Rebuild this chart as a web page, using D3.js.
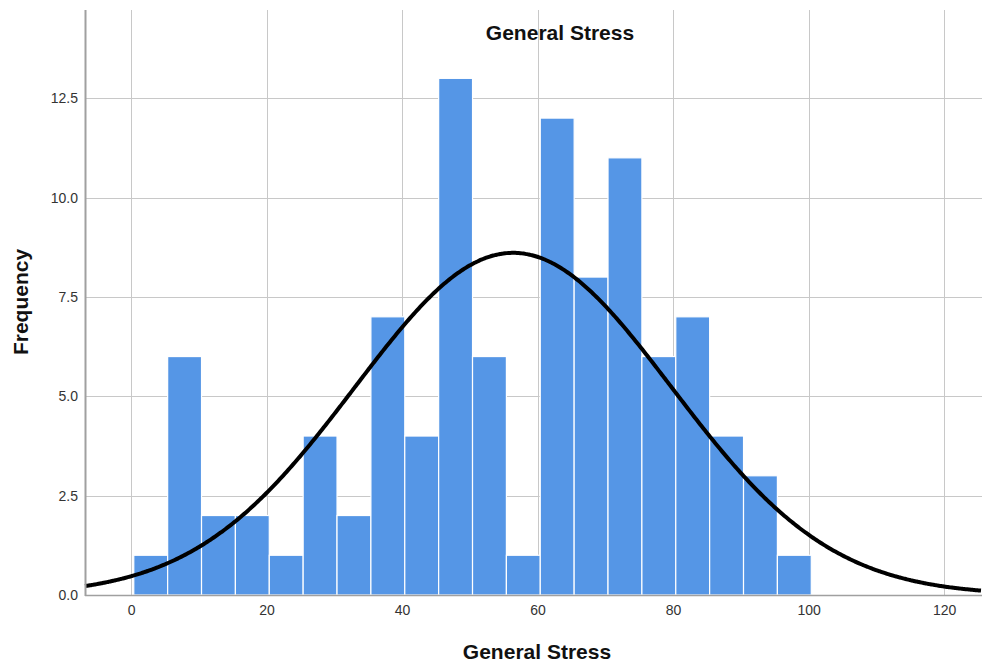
<!DOCTYPE html>
<html>
<head>
<meta charset="utf-8">
<script src="https://cdn.jsdelivr.net/npm/d3@7"></script>
<style>
  html, body { margin: 0; padding: 0; background: #fff; }
  svg { display: block; font-family: "Liberation Sans", Arial, sans-serif; }
</style>
</head>
<body>
<svg id="chart" width="982" height="667"></svg>
<script>
// Histogram of General Stress scores (bin width 5)
const binStart = 0.4;
const binWidth = 5;
const frequencies = [1, 6, 2, 2, 1, 4, 2, 7, 4, 13, 6, 1, 12, 8, 11, 6, 7, 4, 3, 1];
const xTicks = [0, 20, 40, 60, 80, 100, 120];
const yTicks = [0, 2.5, 5, 7.5, 10, 12.5];
// Fitted normal curve parameters
const fitMean = 56.4;
const fitSD = 23.4;
const fitN = 101;

const svg = d3.select("#chart");
const plotLeft = 85, plotRight = 982, plotTop = 10, plotBottom = 595;

const x = d3.scaleLinear().domain([-6.8, 125.6]).range([plotLeft, plotRight]);
const y = d3.scaleLinear().domain([0, 14.72]).range([plotBottom, plotTop]);

const bins = frequencies.map((f, i) => ({
  x0: binStart + i * binWidth,
  x1: binStart + (i + 1) * binWidth,
  count: f
}));

// Grid
const grid = svg.append("g").attr("stroke", "#c8c8c8").attr("stroke-width", 1);
grid.selectAll(".vg").data(xTicks).join("line")
  .attr("x1", d => Math.round(x(d)) + 0.5).attr("x2", d => Math.round(x(d)) + 0.5)
  .attr("y1", plotTop).attr("y2", plotBottom);
grid.selectAll(".hg").data(yTicks.filter(d => d > 0)).join("line")
  .attr("x1", plotLeft).attr("x2", plotRight)
  .attr("y1", d => Math.round(y(d)) + 0.5).attr("y2", d => Math.round(y(d)) + 0.5);

// Bars
svg.append("g").selectAll("rect").data(bins).join("rect")
  .attr("x", d => x(d.x0))
  .attr("width", d => x(d.x1) - x(d.x0))
  .attr("y", d => y(d.count))
  .attr("height", d => y(0) - y(d.count))
  .attr("fill", "#5596e6")
  .attr("stroke", "#ffffff")
  .attr("stroke-width", 1.2);

// Normal curve
const pdf = v => fitN * binWidth / (fitSD * Math.sqrt(2 * Math.PI)) *
  Math.exp(-0.5 * Math.pow((v - fitMean) / fitSD, 2));
const curveXs = d3.range(x.domain()[0], x.domain()[1] + 0.01, 0.25);
svg.append("path")
  .datum(curveXs)
  .attr("fill", "none")
  .attr("stroke", "#000")
  .attr("stroke-width", 4)
  .attr("stroke-linejoin", "round")
  .attr("d", d3.line().x(d => x(d)).y(d => y(pdf(d))).curve(d3.curveBasis));

// Axis lines
svg.append("line").attr("x1", plotLeft).attr("x2", plotRight)
  .attr("y1", plotBottom + 0.5).attr("y2", plotBottom + 0.5)
  .attr("stroke", "#a0a0a0").attr("stroke-width", 1.5);
svg.append("line").attr("x1", plotLeft + 0.5).attr("x2", plotLeft + 0.5)
  .attr("y1", plotTop).attr("y2", plotBottom + 1)
  .attr("stroke", "#a0a0a0").attr("stroke-width", 2);

// Tick labels
const xAxis = d3.axisBottom(x).tickValues(xTicks).tickSize(0).tickPadding(10).tickFormat(d3.format("d"));
const gx = svg.append("g").attr("transform", `translate(0,${plotBottom})`).call(xAxis);
gx.select(".domain").remove();
gx.selectAll("text").attr("font-size", 14).attr("fill", "#333").attr("font-family", "Liberation Sans, Arial, sans-serif");

const yAxis = d3.axisLeft(y).tickValues(yTicks).tickSize(0).tickPadding(7).tickFormat(d3.format(".1f"));
const gy = svg.append("g").attr("transform", `translate(${plotLeft},0)`).call(yAxis);
gy.select(".domain").remove();
gy.selectAll("text").attr("font-size", 14).attr("fill", "#333").attr("font-family", "Liberation Sans, Arial, sans-serif");

// Titles
svg.append("text").attr("x", 560).attr("y", 40).attr("text-anchor", "middle")
  .attr("font-size", 21).attr("font-weight", "bold").attr("fill", "#111")
  .text("General Stress");
svg.append("text").attr("x", 537).attr("y", 659).attr("text-anchor", "middle")
  .attr("font-size", 21).attr("font-weight", "bold").attr("fill", "#111")
  .text("General Stress");
svg.append("text").attr("transform", "translate(28,302) rotate(-90)").attr("text-anchor", "middle")
  .attr("font-size", 21).attr("font-weight", "bold").attr("fill", "#111")
  .text("Frequency");
</script>
</body>
</html>
